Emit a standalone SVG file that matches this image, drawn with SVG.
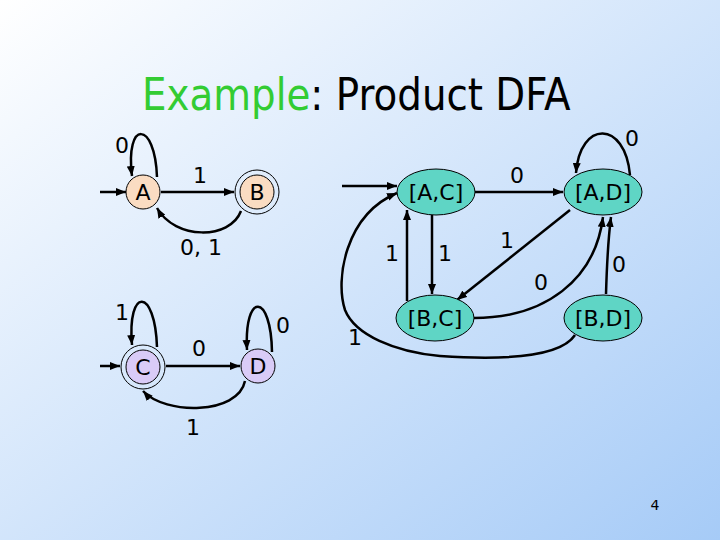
<svg xmlns="http://www.w3.org/2000/svg" width="720" height="540" viewBox="0 0 720 540">
<defs>
<linearGradient id="bg" x1="0" y1="0" x2="1" y2="1">
<stop offset="0" stop-color="#FFFFFF"/>
<stop offset="1" stop-color="#A6CBF7"/>
</linearGradient>
<marker id="ah" markerUnits="userSpaceOnUse" markerWidth="10" markerHeight="8" refX="10" refY="4" orient="auto">
<path d="M0,0 L10,4 L0,8 z" fill="#000"/>
</marker>
<style>
.e{fill:none;stroke:#000;stroke-width:2.5;marker-end:url(#ah)}
.ab{fill:#FADCC2;stroke:#000;stroke-width:1}
.cd{fill:#D9CBF7;stroke:#000;stroke-width:1}
.ring{fill:none;stroke:#000;stroke-width:1}
.pr{fill:#5FD5C5;stroke:#000;stroke-width:1}
text{font-family:"DejaVu Sans","Liberation Sans",sans-serif;fill:#000}
.lbl{font-size:22px;text-anchor:middle}
.nl{font-size:22px;text-anchor:middle}
</style>
</defs>
<rect width="720" height="540" fill="url(#bg)"/>
<text transform="translate(142,110) scale(0.882,1)" font-size="44"><tspan style="fill:#33CC33">Example</tspan>: Product DFA</text>

<g id="connectors">
<path class="e" d="M100,192 L126,192"/>
<path class="e" d="M157,177 C155,120 125,120 132,176"/>
<path class="e" d="M161,192 L234,192"/>
<path class="e" d="M241,211 C230,240 175,240 157,208"/>
<path class="e" d="M100,366 L120,366"/>
<path class="e" d="M157,347 C155,287 127,287 132,345"/>
<path class="e" d="M166,366 L240,366"/>
<path class="e" d="M272,352 C271,292 244,292 247,350"/>
<path class="e" d="M245,381 C238,415 165,415 143,391"/>
<path class="e" d="M342,186 L397,186"/>
<path class="e" d="M575,335 C560,358 500,360 440,356 C395,352 355,335 345,310 C335,280 345,215 397,193"/>
<path class="e" d="M432,215 L432,294"/>
<path class="e" d="M407,301 L407,210"/>
<path class="e" d="M475,192 L563,192"/>
<path class="e" d="M630,175 C625,120 580,120 576,173"/>
<path class="e" d="M570,210 L457,300"/>
<path class="e" d="M474,318 C545,318 595,280 603,217"/>
<path class="e" d="M606,294 C607,260 608,240 611,217"/>
</g>

<g id="labels">
<text class="lbl" x="122" y="153">0</text>
<text class="lbl" x="200" y="183">1</text>
<text class="lbl" x="201" y="255">0, 1</text>
<text class="lbl" x="122" y="320">1</text>
<text class="lbl" x="199" y="356">0</text>
<text class="lbl" x="283" y="333">0</text>
<text class="lbl" x="193" y="435">1</text>
<text class="lbl" x="517" y="183">0</text>
<text class="lbl" x="632" y="146">0</text>
<text class="lbl" x="392" y="261">1</text>
<text class="lbl" x="445" y="261">1</text>
<text class="lbl" x="507" y="248">1</text>
<text class="lbl" x="541" y="290">0</text>
<text class="lbl" x="619" y="272">0</text>
<text class="lbl" x="355" y="345">1</text>
</g>

<g id="A"><circle class="ab" cx="143" cy="192" r="17"/><text class="nl" x="143" y="200">A</text></g>
<g id="B"><circle class="ring" cx="257" cy="192" r="22"/><circle class="ab" cx="257" cy="192" r="17"/><text class="nl" x="257" y="200">B</text></g>
<g id="C"><circle class="ring" cx="143" cy="367" r="22"/><circle class="cd" cx="143" cy="367" r="17"/><text class="nl" x="143" y="375">C</text></g>
<g id="D"><circle class="cd" cx="258" cy="366" r="17"/><text class="nl" x="258" y="374">D</text></g>
<g id="AC"><ellipse class="pr" cx="436" cy="192" rx="39" ry="23"/><text class="nl" x="436" y="200">[A,C]</text></g>
<g id="AD"><ellipse class="pr" cx="603" cy="192" rx="39" ry="23"/><text class="nl" x="603" y="200">[A,D]</text></g>
<g id="BC"><ellipse class="pr" cx="435" cy="318" rx="39" ry="23"/><text class="nl" x="435" y="326">[B,C]</text></g>
<g id="BD"><ellipse class="pr" cx="603" cy="318" rx="39" ry="23"/><text class="nl" x="603" y="326">[B,D]</text></g>

<text x="655" y="510" font-size="14" text-anchor="middle">4</text>
</svg>
